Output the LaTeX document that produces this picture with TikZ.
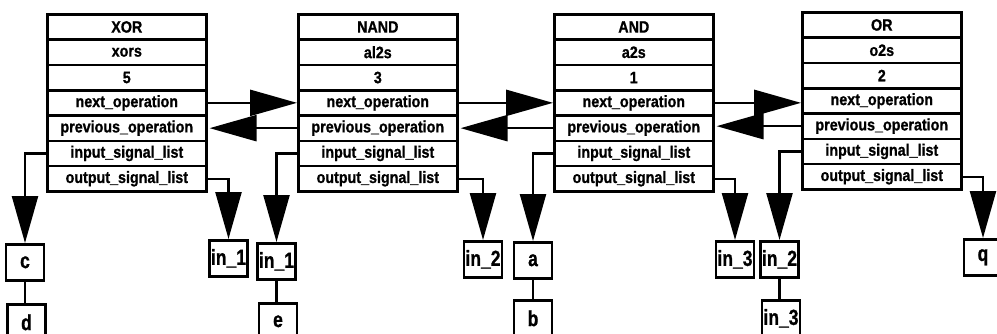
\documentclass[tikz,border=0pt]{standalone}
\usepackage{fontspec}
\setmainfont{Liberation Sans}[BoldFeatures={FakeBold=1}]
\usetikzlibrary{arrows.meta}

% One operation record: a column of seven stacked fields
% #1 name, #2 left x, #3 top y, #4 field texts
\newcommand\oprecord[4]{%
  \foreach \t [count=\i] in {#4} {
    \node[field] (#1-\i) at (#2, {#3+25.3*(\i-1)}) {\scalebox{1}[1.15]{\t}};
  }%
}
% label of a signal list cell
\newcommand\siglabel[1]{\scalebox{0.92}[1.15]{#1}}

\begin{document}
\begin{tikzpicture}[x=1pt,y=-1pt,
  field/.style={draw, line width=2.6pt, minimum width=159pt, minimum height=25.3pt,
    inner sep=0pt, anchor=north west,
    font=\bfseries\fontsize{14.3}{16}\selectfont},
  sigbox/.style={draw, line width=2.6pt, minimum width=38pt, minimum height=36pt,
    inner sep=0pt, anchor=north,
    font=\bfseries\fontsize{19}{21}\selectfont},
  link/.style={line width=2.4pt, -{Triangle[length=47pt,width=26pt]}},
  backlink/.style={link, shorten >=2pt},
  chain/.style={line width=2.4pt}
]
\clip (0,0) rectangle (997,333);

% operation records
\oprecord{xor}{46}{13}{XOR, xors, 5, next\_operation, previous\_operation, input\_signal\_list, output\_signal\_list}
\oprecord{nand}{297}{13}{NAND, al2s, 3, next\_operation, previous\_operation, input\_signal\_list, output\_signal\_list}
\oprecord{and}{553}{13}{AND, a2s, 1, next\_operation, previous\_operation, input\_signal\_list, output\_signal\_list}
\oprecord{or}{801}{11}{OR, o2s, 2, next\_operation, previous\_operation, input\_signal\_list, output\_signal\_list}

% signal list cells
\node[sigbox] (c)    at (25,243)    {\siglabel{c}};
\node[sigbox] (d)    at (26.5,303)  {\siglabel{d}};
\node[sigbox] (xin1) at (228.5,239) {\siglabel{in\_1}};
\node[sigbox] (nin1) at (276.5,242) {\siglabel{in\_1}};
\node[sigbox] (e)    at (278,302)   {\siglabel{e}};
\node[sigbox] (nin2) at (483,240)   {\siglabel{in\_2}};
\node[sigbox] (a)    at (533,241)   {\siglabel{a}};
\node[sigbox] (b)    at (533,299)   {\siglabel{b}};
\node[sigbox] (ain3) at (735,240)   {\siglabel{in\_3}};
\node[sigbox] (oin2) at (779.5,240) {\siglabel{in\_2}};
\node[sigbox] (oin3) at (781,299)   {\siglabel{in\_3}};
\node[sigbox] (q)    at (983,238)   {\siglabel{q}};

% next / previous operation pointers
\draw[link] (xor-4.east) -- (nand-4.west);
\draw[backlink] (nand-5.west) -- (xor-5.east);
\draw[link] (nand-4.east) -- (and-4.west);
\draw[backlink] (and-5.west) -- (nand-5.east);
\draw[link] (and-4.east) -- (and-4.east -| or-4.west);
\draw[backlink] (or-5.west) -- (or-5.west -| and-5.east);

% input / output signal list pointers
\draw[link] (xor-6.west) -| (c.north);
\draw[link] (xor-7.east) -| (xin1.north);
\draw[link] (nand-6.west) -| (nin1.north);
\draw[link] (nand-7.east) -| (nin2.north);
\draw[link] (and-6.west) -| (a.north);
\draw[link] (and-7.east) -| (ain3.north);
\draw[link] (or-6.west) -| (oin2.north);
\draw[link] (or-7.east) -| (q.north);

% list chaining
\draw[chain] (c.south) -- (c.south |- d.north);
\draw[chain] (nin1.south) -- (nin1.south |- e.north);
\draw[chain] (a.south) -- (a.south |- b.north);
\draw[chain] (oin2.south) -- (oin2.south |- oin3.north);
\end{tikzpicture}
\end{document}
